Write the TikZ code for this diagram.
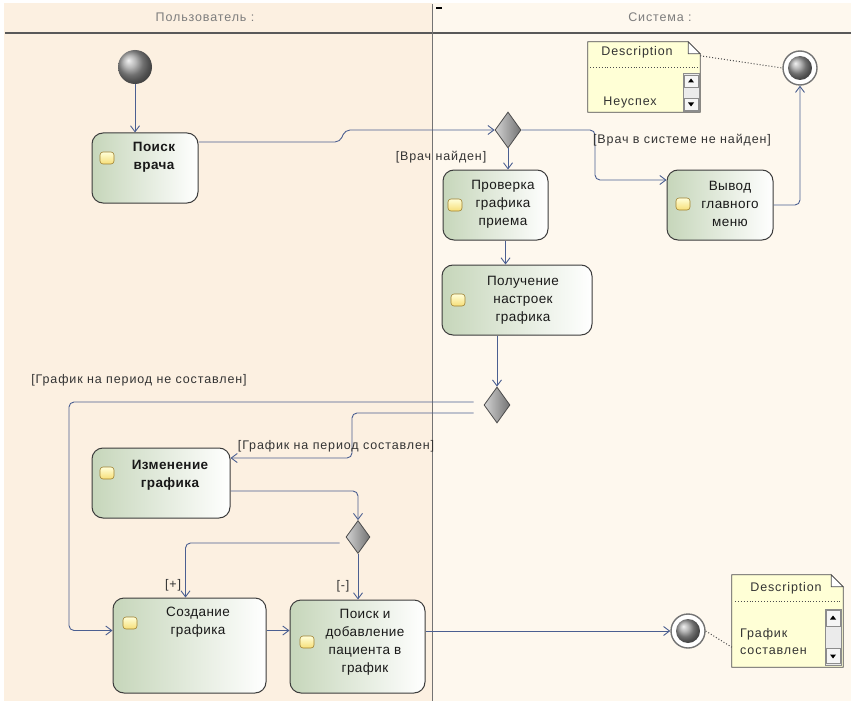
\documentclass[tikz,border=0pt]{standalone}
\usepackage{fontspec}
\setmainfont{Liberation Sans}
\newfontfamily\lblfont[LetterSpace=7]{Liberation Sans}
\newfontfamily\wideboxfont[LetterSpace=3]{Liberation Sans}
\usetikzlibrary{shapes.geometric,arrows.meta}
\definecolor{bgL}{RGB}{252,240,225}
\definecolor{bgR}{RGB}{254,248,238}
\definecolor{conn}{RGB}{75,95,145}
\definecolor{boxline}{RGB}{60,60,60}
\definecolor{boxgreen}{RGB}{198,214,186}
\definecolor{notey}{RGB}{255,255,214}
\definecolor{iconY}{RGB}{246,222,120}
\definecolor{iconL}{RGB}{160,130,50}
\definecolor{hdr}{RGB}{125,125,125}
\begin{document}
\begin{tikzpicture}[x=1pt,y=-1pt,
  act/.style={draw=boxline, line width=1pt, rounded corners=11pt, left color=boxgreen, right color=white, inner sep=0pt},
  acttext/.style={align=center, font=\wideboxfont\fontsize{13.5}{18}\selectfont, text=black!90, inner sep=0pt},
  boldtext/.style={acttext, font=\wideboxfont\bfseries\fontsize{13.5}{18}\selectfont},
  icon/.style={draw=iconL, line width=0.6pt, rounded corners=3pt, minimum width=14pt, minimum height=12pt, inner sep=0pt, top color=yellow!15, bottom color=iconY},
  dia/.style={shape=diamond, draw=black!70, line width=0.8pt, inner sep=0pt, minimum width=26pt, minimum height=36pt, aspect=0.72, left color=gray!35, right color=black!55},
  flow/.style={draw=conn, line width=0.9pt, rounded corners=5pt, -{Straight Barb[length=6pt,width=9pt]}},
  guard/.style={font=\lblfont\fontsize{12.5}{14}\selectfont, text=black!80, inner sep=1pt},
  startn/.style={circle, minimum size=34pt, inner sep=0pt, ball color=gray!75},
  finring/.style={circle, minimum size=34pt, inner sep=0pt, draw=black!55, line width=1.4pt, fill=white},
  finball/.style={circle, minimum size=24pt, inner sep=0pt, ball color=gray!75},
  notebase/.style={inner sep=0pt},
  notepath/.style={draw=black!70, line width=0.8pt, fill=notey},
  ntext/.style={font=\lblfont\fontsize{12.5}{17}\selectfont, text=black!80, inner sep=0pt},
  hdrtext/.style={font=\lblfont\fontsize{12.5}{14}\selectfont, text=hdr, inner sep=0pt}
]
\useasboundingbox (0,0) rectangle (854,706);
\fill[white] (0,0) rectangle (854,706);
% lanes
\fill[bgL] (4,3) rectangle (432,701);
\fill[bgR] (432,3) rectangle (851,701);
\draw[black!65, line width=2pt] (5,33) -- (851,33);
\draw[black!55, line width=1pt] (432,4) -- (432,701);
\fill[black] (436,7) rectangle (442,9);
\node[hdrtext] (hU) at (205,17) {Пользователь :};
\node[hdrtext] (hS) at (660,17) {Система :};

% activity boxes
\node[act, minimum width=106pt, minimum height=70pt] (poisk) at (145,168) {};
\node[act, minimum width=105pt, minimum height=70pt] (chk) at (495.5,205) {};
\node[act, minimum width=106pt, minimum height=70pt] (vyv) at (720,205) {};
\node[act, minimum width=150pt, minimum height=70pt] (pol) at (517,300) {};
\node[act, minimum width=138pt, minimum height=70pt] (izm) at (161,483) {};
\node[act, minimum width=153pt, minimum height=95pt] (sozd) at (189.5,645.5) {};
\node[act, minimum width=135pt, minimum height=93pt] (pd) at (357.5,646.5) {};

% icons
\node[icon] (poiskI) at (107,158) {};
\node[icon] (chkI) at (455,205) {};
\node[icon] (vyvI) at (683,204) {};
\node[icon] (polI) at (458,300) {};
\node[icon] (izmI) at (107,473) {};
\node[icon] (sozdI) at (130,623) {};
\node[icon] (pdI) at (307,642) {};

% texts
\node[boldtext] (poiskT) at (154,157) {Поиск\\врача};
\node[acttext] (chkT) at (503,204) {Проверка\\графика\\приема};
\node[acttext] (vyvT) at (730,204) {Вывод\\главного\\меню};
\node[acttext] (polT) at (523,300) {Получение\\настроек\\графика};
\node[boldtext] (izmT) at (170,475) {Изменение\\графика};
\node[acttext] (sozdT) at (198,622) {Создание\\графика};
\node[acttext] (pdT) at (365,642) {Поиск и\\добавление\\пациента в\\график};

% control nodes
\node[startn] (start) at (135,67) {};
\node[dia] (d1) at (508,130) {};
\node[dia] (d2) at (497,405) {};
\node[dia, minimum width=24pt, minimum height=33pt] (d3) at (358,537) {};
\node[finring] (fin1) at (800,68) {};
\node[finball] (fin1b) at (fin1) {};
\node[finring] (fin2) at (688,631) {};
\node[finball] (fin2b) at (fin2) {};

% note 1
\node[notebase, minimum width=112pt, minimum height=70pt] (n1) at (644,77) {};
\draw[notepath] (n1.north west) -- ([xshift=-12pt]n1.north east) -- ([yshift=-12pt]n1.north east) -- (n1.south east) -- (n1.south west) -- cycle;
\draw[black!70, line width=0.7pt, fill=white] ([xshift=-12pt]n1.north east) -- ([xshift=-12pt,yshift=-12pt]n1.north east) -- ([yshift=-12pt]n1.north east) -- cycle;
\draw[black!70, dotted, line width=0.9pt] (590,67) -- (698,67);
\node[ntext] (n1h) at (637,52) {Description};
\node[ntext] (n1t) at (630,102) {Неуспех};
\node[draw=black!45, fill=black!8, minimum width=16pt, minimum height=38pt, inner sep=0pt] (n1sb) at (691,92) {};
\node[draw=black!45, fill=black!4, minimum width=14pt, minimum height=12pt, inner sep=0pt] (n1up) at (691,81) {};
\node[draw=black!45, fill=black!4, minimum width=14pt, minimum height=12pt, inner sep=0pt] (n1dn) at (691,104) {};
\fill[black] ([yshift=2.5pt]n1up.center) -- ++(-3,4) -- ++(6,0) -- cycle;
\fill[black] ([yshift=-2.5pt]n1dn.center) -- ++(-3,-4) -- ++(6,0) -- cycle;

% note 2
\node[notebase, minimum width=111pt, minimum height=92pt] (n2) at (787.5,621) {};
\draw[notepath] (n2.north west) -- ([xshift=-12pt]n2.north east) -- ([yshift=-12pt]n2.north east) -- (n2.south east) -- (n2.south west) -- cycle;
\draw[black!70, line width=0.7pt, fill=white] ([xshift=-12pt]n2.north east) -- ([xshift=-12pt,yshift=-12pt]n2.north east) -- ([yshift=-12pt]n2.north east) -- cycle;
\draw[black!70, dotted, line width=0.9pt] (735,601) -- (841,601);
\node[ntext] (n2h) at (786,588) {Description};
\node[ntext, align=left, anchor=west] (n2t) at (740,642) {График\\составлен};
\node[draw=black!45, fill=black!8, minimum width=16pt, minimum height=56pt, inner sep=0pt] (n2sb) at (833,637) {};
\node[draw=black!45, fill=black!4, minimum width=14pt, minimum height=16pt, inner sep=0pt] (n2up) at (833,618) {};
\node[draw=black!45, fill=black!4, minimum width=14pt, minimum height=15pt, inner sep=0pt] (n2dn) at (833,656) {};
\fill[black] ([yshift=2.5pt]n2up.center) -- ++(-3,4) -- ++(6,0) -- cycle;
\fill[black] ([yshift=-2.5pt]n2dn.center) -- ++(-3,-4) -- ++(6,0) -- cycle;

% note links
\draw[black!70, dotted, line width=1pt] ([yshift=-14pt]n1.north east) -- (fin1.west);
\draw[black!70, dotted, line width=1pt] (fin2.east) -- ([yshift=20pt]n2.south west);

% flows
\draw[flow] (start.south) -- (start.south |- poisk.north);
\draw[flow] ([yshift=26pt]poisk.east) -- (340,142) -- (345,130) -- (d1.west);
\draw[flow] (d1.south) -- (d1.south |- chk.north);
\node[guard] (g1) at (441,157) {[Врач найден]};
\draw[flow] (d1.east) -- (595,130) |- ([yshift=25pt]vyv.west);
\node[guard] (g2) at (682,140) {[Врач в системе не найден]};
\draw[flow] (vyv.east) -| (fin1.south);
\draw[flow] ([xshift=10pt]chk.south) -- ([xshift=10pt]chk.south |- pol.north);
\draw[flow] (d2.north |- pol.south) -- (d2.north);
\draw[flow] ([xshift=-10pt,yshift=3pt]d2.west) -- (69,402) |- ([yshift=15pt]sozd.west);
\node[guard] (g3) at (139,380) {[График на период не составлен]};
\draw[flow] ([xshift=-10pt,yshift=-8pt]d2.west) -- (352,413) |- ([yshift=25pt]izm.east);
\node[guard] (g4) at (336,446) {[График на период составлен]};
\draw[flow] ([yshift=-8pt]izm.east) -| (d3.north);
\draw[flow] ([xshift=-6pt,yshift=-6pt]d3.west) -| ([xshift=-4pt]sozd.north);
\node[guard] (g5) at (173,585) {[+]};
\draw[flow] (d3.south) -- (d3.south |- pd.north);
\node[guard] (g6) at (343,586) {[-]};
\draw[flow] ([yshift=15pt]sozd.east) -- ([yshift=15pt]sozd.east -| pd.west);
\draw[flow] (pd.east |- fin2.west) -- (fin2.west);
\end{tikzpicture}
\end{document}
